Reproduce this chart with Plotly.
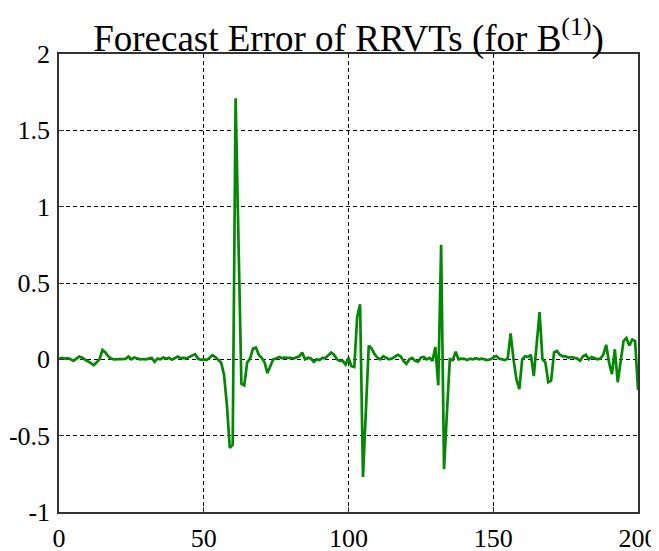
import plotly.graph_objects as go

# Forecast error values, one per time step (t = 0..200)
t = list(range(201))
err = [
    0.005, 0.01, 0.005, 0.008, 0.0, -0.01, 0.005, 0.018, 0.01, 0.0,
    -0.015, -0.025, -0.038, -0.02, 0.0, 0.062, 0.045, 0.02, 0.005, 0.0,
    0.0, 0.002, 0.0, 0.003, 0.018, 0.0, 0.012, 0.005, 0.0, 0.002,
    0.0, 0.005, 0.01, -0.016, 0.005, 0.0, 0.012, 0.004, 0.01, -0.003,
    0.005, 0.018, 0.008, 0.01, 0.006, 0.015, 0.027, 0.034, 0.005, -0.003,
    0.0, -0.005, 0.01, 0.027, 0.015, 0.0, -0.02, -0.1, -0.3, -0.58,
    -0.56, 1.71, 0.78, -0.16, -0.17, -0.02, 0.005, 0.07, 0.077, 0.03,
    0.01, -0.02, -0.09, -0.05, 0.0, 0.005, 0.015, 0.008, 0.012, 0.01,
    0.01, 0.005, 0.01, 0.02, 0.045, 0.0, 0.01, 0.005, -0.017, 0.0,
    -0.005, 0.01, 0.008, 0.025, 0.045, 0.03, 0.0, -0.01, -0.01, -0.035,
    0.01, -0.045, -0.05, 0.28, 0.36, -0.77, -0.33, 0.09, 0.07, 0.034,
    0.01, 0.0, 0.02, 0.01, 0.0, 0.005, 0.015, 0.03, 0.02, -0.01,
    -0.03, 0.0, 0.01, -0.01, -0.015, 0.01, 0.015, 0.0, 0.01, -0.01,
    0.08, -0.17, 0.75, -0.72, -0.35, 0.0, -0.005, 0.05, 0.0, 0.005,
    0.003, -0.005, 0.005, 0.0, 0.008, 0.0, 0.005, 0.0, -0.005, 0.0,
    0.01, 0.023, 0.005, 0.0, -0.005, 0.005, 0.17, 0.0, -0.13, -0.195,
    0.0, 0.02, 0.015, 0.03, -0.11, 0.1, 0.31, 0.0, -0.02, -0.15,
    -0.14, 0.045, 0.055, 0.03, 0.02, 0.02, 0.01, 0.015, 0.01, 0.005,
    -0.01, 0.02, 0.03, 0.0, 0.015, 0.01, 0.0, 0.005, 0.03, 0.095,
    -0.02, -0.097, 0.066, -0.15, 0.0, 0.12, 0.14, 0.09, 0.13, 0.12,
    -0.2,
]

x_tickvals = [0, 50, 100, 150, 200]
x_ticktext = ["0", "50", "100", "150", "200"]
y_tickvals = [-1, -0.5, 0, 0.5, 1, 1.5, 2]
y_ticktext = ["-1", "-0.5", "0", "0.5", "1", "1.5", "2"]

title_text = "Forecast Error of RRVTs (for B<sup>(1)</sup>)"

fig = go.Figure()
fig.add_trace(go.Scatter(
    x=t, y=err, mode="lines",
    line=dict(color="#008a00", width=2.7),
    showlegend=False, hoverinfo="skip",
))

font_family = "Liberation Serif, Times New Roman, serif"

axis_common = dict(
    showline=True, mirror=True, linecolor="#333333", linewidth=1.5,
    showgrid=True, gridcolor="black", gridwidth=1, griddash="4px,3px",
    zeroline=False, ticks="inside", ticklen=5, tickcolor="#333333",
    tickfont=dict(family=font_family, size=26, color="black"),
    automargin=False,
)

# The page body adds an 8px offset, so the figure is sized to fit the window.
fig.update_layout(
    width=651, height=543,
    margin=dict(l=51, r=21, t=46, b=39),
    paper_bgcolor="white", plot_bgcolor="white",
    title=dict(
        text=title_text,
        font=dict(family=font_family, size=37, color="black"),
        x=0.5, xref="paper", xanchor="center",
        y=1, yref="paper", yanchor="bottom",
        pad=dict(b=3),
        automargin=False,
    ),
    xaxis=dict(range=[0, 200], tickvals=x_tickvals, ticktext=x_ticktext,
               ticklabelstandoff=2, **axis_common),
    yaxis=dict(range=[-1, 2], tickvals=y_tickvals, ticktext=y_ticktext,
               ticklabelstandoff=2, **axis_common),
)

fig.write_html("out.html")
